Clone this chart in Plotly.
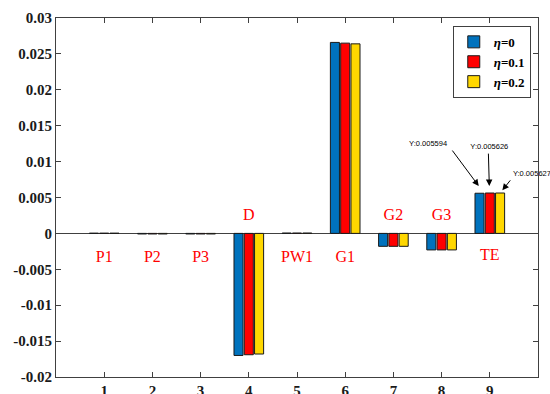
import plotly.graph_objects as go

categories = [1, 2, 3, 4, 5, 6, 7, 8, 9]
comp_labels = ["P1", "P2", "P3", "D", "PW1", "G1", "G2", "G3", "TE"]
eta0 = [0.00003, -0.00008, -0.00008, -0.0170, 0.00005, 0.0266, -0.0018, -0.0023, 0.005594]
eta01 = [0.00003, -0.00008, -0.00008, -0.0169, 0.00005, 0.0265, -0.0018, -0.0023, 0.005626]
eta02 = [0.00003, -0.00008, -0.00008, -0.0168, 0.00005, 0.0264, -0.0018, -0.0023, 0.005627]
label_y = [-0.0034, -0.0034, -0.0034, 0.0024, -0.0034, -0.0034, 0.0024, 0.0024, -0.0032]
series_names = ["<b><i>η</i>=0</b>", "<b><i>η</i>=0.1</b>", "<b><i>η</i>=0.2</b>"]
colors = ["#0072BD", "#FF0000", "#FFD700"]
y_ticks = [0.03, 0.025, 0.02, 0.015, 0.01, 0.005, 0, -0.005, -0.01, -0.015, -0.02]
y_tick_text = ["0.03", "0.025", "0.02", "0.015", "0.01", "0.005", "0", "-0.005", "-0.01", "-0.015", "-0.02"]

# datatips on TE bars
tip_text = ["Y:0.005594", "Y:0.005626", "Y:0.005627"]
tip_label_x = [7.72, 8.99, 9.48]
tip_label_y = [0.0124, 0.01206, 0.0083]
tip_tail_x = [8.20, 8.97, 9.45]
tip_tail_y = [0.01175, 0.01132, 0.0076]
tip_head_x = [8.77, 8.99, 9.26]
tip_head_y = [0.0066, 0.0066, 0.0060]

fig = go.Figure()
for name, vals, col in zip(series_names, [eta0, eta01, eta02], colors):
    fig.add_trace(go.Bar(x=categories, y=vals, name=name,
                         marker=dict(color=col, line=dict(color="#1a1a1a", width=1))))

fig.add_trace(go.Scatter(x=categories, y=label_y, mode="text", text=comp_labels,
                         textfont=dict(family="Liberation Serif", size=16, color="#FF0000"),
                         showlegend=False, hoverinfo="skip"))

fig.add_trace(go.Scatter(x=tip_label_x[:2], y=tip_label_y[:2], mode="text", text=tip_text[:2],
                         textposition="middle center",
                         textfont=dict(family="Liberation Sans", size=7.5, color="#000"),
                         showlegend=False, hoverinfo="skip"))
fig.add_trace(go.Scatter(x=tip_label_x[2:], y=tip_label_y[2:], mode="text", text=tip_text[2:],
                         textposition="middle right",
                         textfont=dict(family="Liberation Sans", size=7.5, color="#000"),
                         showlegend=False, hoverinfo="skip", cliponaxis=False))

for tx, ty, hx, hy in zip(tip_tail_x, tip_tail_y, tip_head_x, tip_head_y):
    fig.add_annotation(x=hx, y=hy, ax=tx, ay=ty, xref="x", yref="y", axref="x", ayref="y",
                       text="", showarrow=True, arrowhead=2, arrowsize=1.3, arrowwidth=1,
                       arrowcolor="#000")

axis_col = "#404040"
fig.update_layout(
    width=550, height=394,
    margin=dict(l=56, r=12, t=18, b=17),
    plot_bgcolor="white", paper_bgcolor="white",
    barmode="group", bargap=0.36, bargroupgap=0.12,
    font=dict(family="Liberation Serif", size=15, color="#262626"),
    legend=dict(x=0.985, y=0.978, xanchor="right", yanchor="top",
                bgcolor="white", bordercolor=axis_col, borderwidth=1,
                font=dict(family="Liberation Serif", size=13, color="#000"),
                tracegroupgap=0, itemwidth=30),
    xaxis=dict(range=[0, 10], tickvals=categories, ticktext=[f"<b>{c}</b>" for c in categories],
               ticks="inside", ticklen=5, tickcolor=axis_col, showline=True, linecolor=axis_col,
               linewidth=1, mirror="ticks", showgrid=False, zeroline=False, automargin=False,
               tickfont=dict(family="Liberation Serif", size=15, color="#1a1a1a")),
    yaxis=dict(range=[-0.02, 0.03], tickvals=y_ticks, ticktext=[f"<b>{t}</b>" for t in y_tick_text],
               ticks="inside", ticklen=5, tickcolor=axis_col, showline=True, linecolor=axis_col,
               linewidth=1, mirror="ticks", showgrid=False, zeroline=True, zerolinecolor=axis_col,
               zerolinewidth=1, automargin=False,
               tickfont=dict(family="Liberation Serif", size=15, color="#1a1a1a")),
)

fig.write_html("out.html", config={"displayModeBar": False},
               post_script="document.body.style.margin='0';")
